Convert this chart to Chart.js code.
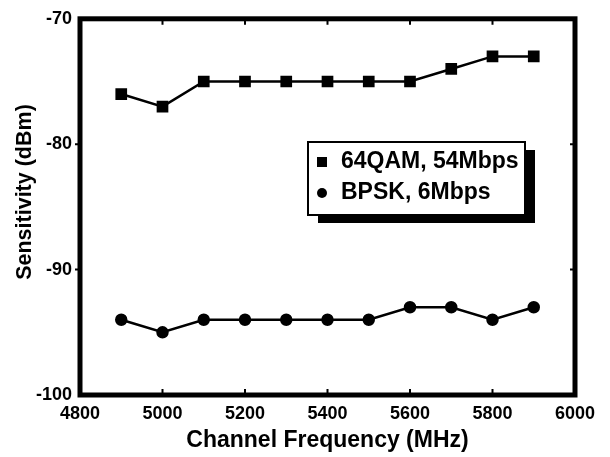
<!DOCTYPE html>
<html>
<head>
<meta charset="utf-8">
<script src="https://cdn.jsdelivr.net/npm/chart.js@4"></script>
<style>
  html, body { margin: 0; padding: 0; background: #fff; }
  #wrap { width: 610px; height: 457px; }
</style>
</head>
<body>
<div id="wrap"><canvas id="sens"></canvas></div>
<script>
// dados
var freqs = [4900, 5000, 5100, 5200, 5300, 5400, 5500, 5600, 5700, 5800, 5900];
var qam64 = [-76, -77, -75, -75, -75, -75, -75, -75, -74, -73, -73];
var bpsk = [-94, -95, -94, -94, -94, -94, -94, -93, -93, -94, -93];
var serieNames = ['64QAM, 54Mbps', 'BPSK, 6Mbps'];
var xTicks = [4800, 5000, 5200, 5400, 5600, 5800, 6000];
var yTicks = [-100, -90, -80, -70];
var yTitle = 'Sensitivity (dBm)';

function pontos(vals) { // junta x e y
    var out = [];
    for (var i = 0; i < freqs.length; i++) {
        out.push({ x: freqs[i], y: vals[i] });
    }
    return out;
}

var fonte = 'Liberation Sans, Arial, Helvetica, sans-serif';

// moldura grossa + tracinhos
var framePlugin = {
    id: 'frame',
    afterDatasetsDraw: function (chart) {
        var c = chart.ctx, a = chart.chartArea;
        var xs = chart.scales.x, ys = chart.scales.y;
        c.save();
        c.strokeStyle = '#000';
        c.lineWidth = 2;
        for (var i = 1; i < xTicks.length - 1; i++) {
            var px = xs.getPixelForValue(xTicks[i]);
            c.beginPath();
            c.moveTo(px, a.top); c.lineTo(px, a.top + 6);
            c.moveTo(px, a.bottom); c.lineTo(px, a.bottom - 6);
            c.stroke();
        }
        for (var j = 1; j < yTicks.length - 1; j++) {
            var py = ys.getPixelForValue(yTicks[j]);
            c.beginPath();
            c.moveTo(a.left, py); c.lineTo(a.left - 5, py);
            c.moveTo(a.right, py); c.lineTo(a.right - 5, py);
            c.stroke();
        }
        c.lineWidth = 5;
        c.strokeRect(a.left, a.top, a.right - a.left, a.bottom - a.top);

        // titulo do eixo y (um pouco acima do centro, como no original)
        c.translate(25, 192);
        c.rotate(-Math.PI / 2);
        c.fillStyle = '#000';
        c.font = 'bold 21.5px ' + fonte;
        c.textAlign = 'center';
        c.textBaseline = 'middle';
        c.fillText(yTitle, 0, 0);
        c.restore();
    }
};

// legenda com sombra
var legendPlugin = {
    id: 'boxLegend',
    afterDraw: function (chart) {
        var c = chart.ctx;
        var bx = 308, by = 142, bw = 217, bh = 73;
        c.save();
        c.fillStyle = '#000';
        c.fillRect(bx + 10, by + 8, bw, bh);
        c.fillStyle = '#fff';
        c.fillRect(bx, by, bw, bh);
        c.strokeStyle = '#000';
        c.lineWidth = 2;
        c.strokeRect(bx, by, bw, bh);
        c.fillStyle = '#000';
        c.fillRect(317, 157, 10, 10);
        c.beginPath();
        c.arc(322, 193, 5, 0, Math.PI * 2);
        c.fill();
        c.font = 'bold 23px ' + fonte;
        c.textBaseline = 'middle';
        c.fillText(serieNames[0], 341, 162);
        c.fillText(serieNames[1], 341, 193);
        c.restore();
    }
};

var ctx = document.getElementById('sens');
var myChart = new Chart(ctx, {
    type: 'scatter',
    data: {
        datasets: [{
            label: serieNames[0],
            data: pontos(qam64),
            showLine: true,
            borderColor: '#000',
            backgroundColor: '#000',
            borderWidth: 2.5,
            pointStyle: 'rect',
            pointRadius: 6.5,
            pointHoverRadius: 6.5
        }, {
            label: serieNames[1],
            data: pontos(bpsk),
            showLine: true,
            borderColor: '#000',
            backgroundColor: '#000',
            borderWidth: 2.5,
            pointStyle: 'circle',
            pointRadius: 5,
            pointHoverRadius: 5
        }]
    },
    options: {
        responsive: true,
        maintainAspectRatio: false,
        animation: false,
        events: [],
        layout: { padding: { top: 18, right: 35, left: 0, bottom: 0 } },
        plugins: {
            legend: { display: false },
            tooltip: { enabled: false }
        },
        elements: { line: { tension: 0 } },
        scales: {
            x: {
                type: 'linear',
                min: 4800,
                max: 6000,
                afterFit: function (s) { s.height = 62; },
                afterBuildTicks: function (s) { s.ticks = xTicks.map(function (v) { return { value: v }; }); },
                grid: { display: false, drawTicks: false },
                border: { display: false },
                ticks: {
                    padding: 8,
                    color: '#000',
                    maxRotation: 0,
                    callback: function (v) { return String(v); },
                    font: { family: fonte, size: 18, weight: 'bold' }
                },
                title: {
                    display: true,
                    text: 'Channel Frequency (MHz)',
                    color: '#000',
                    padding: { top: 0, bottom: 3 },
                    font: { family: fonte, size: 23, weight: 'bold' }
                }
            },
            y: {
                min: -100,
                max: -70,
                afterFit: function (s) { s.width = 80; },
                afterBuildTicks: function (s) { s.ticks = yTicks.map(function (v) { return { value: v }; }); },
                grid: { display: false, drawTicks: false },
                border: { display: false },
                ticks: {
                    padding: 8,
                    color: '#000',
                    callback: function (v) { return String(v); },
                    font: { family: fonte, size: 18, weight: 'bold' }
                },
                title: { display: false }
            }
        }
    },
    plugins: [framePlugin, legendPlugin]
});
</script>
</body>
</html>
